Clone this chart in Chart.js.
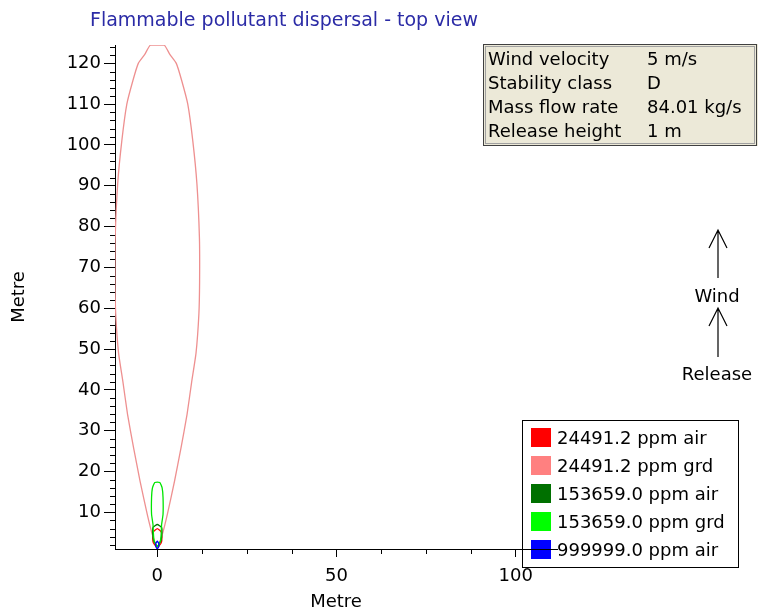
<!DOCTYPE html>
<html lang="en">
<head>
<meta charset="UTF-8">
<title>Flammable pollutant dispersal - top view</title>
<script src="https://cdn.jsdelivr.net/npm/chart.js"></script>
<style>
  body { margin: 0; background: #ffffff; }
  #wrap { width: 758px; height: 613px; }
</style>
</head>
<body>
<div id="wrap"><canvas id="myChart" width="758" height="613"></canvas></div>
<script>
// contours: distance downwind (m) and half width across wind (m)
var redAirY = [1.2, 2.5, 4, 5.2, 6];
var redAirHalf = [0, 1.1, 1.3, 1.1, 0];

var pinkGrdY = [1, 4.6, 9.5, 17.6, 25.7, 34, 42, 49, 58.6, 66.7, 77.3, 90.5, 101, 110, 115.8, 120, 122.2, 124.5];
var pinkGrdHalf = [0, 1.4, 2.8, 4.8, 6.6, 8.3, 9.6, 10.8, 11.6, 11.8, 11.75, 11.05, 9.9, 8.5, 6.8, 5.3, 3.5, 1.9];

var darkGreenAirY = [1.5, 3, 5, 6.3, 7];
var darkGreenAirHalf = [0, 1.0, 1.3, 1.2, 0];

var greenGrdY = [1.5, 3, 5, 7, 9.5, 13.6, 16, 17.3];
var greenGrdHalf = [0, 0.9, 1.1, 1.2, 1.6, 1.6, 1.35, 0.7];

var blueAirY = [1, 1.6, 2.4, 2.9];
var blueAirHalf = [0, 0.4, 0.4, 0];

var seriesLabels = ['24491.2 ppm air', '24491.2 ppm grd', '153659.0 ppm air', '153659.0 ppm grd', '999999.0 ppm air'];
var seriesColors = ['#ff0000', '#ee9090', '#007800', '#00e600', '#0000ff'];
var legendColors = ['#ff0000', '#ff8080', '#007000', '#00ff00', '#0000ff'];

var xTickLabels = [0, 50, 100];
var yTickLabels = [10, 20, 30, 40, 50, 60, 70, 80, 90, 100, 110, 120];
var xMinorStep = 12.5;
var yMinorStep = 2;

var infoLabels = ['Wind velocity', 'Stability class', 'Mass flow rate', 'Release height'];
var infoValues = ['5 m/s', 'D', '84.01 kg/s', '1 m'];

// right side going up, then left side coming down, closed
function contour(ys, halves) {
    var pts = [];
    for (var i = 0; i < ys.length; i++) {
        pts.push({ x: halves[i], y: ys[i] });
    }
    for (var j = ys.length - 1; j >= 0; j--) {
        if (halves[j] === 0) continue;
        pts.push({ x: -halves[j], y: ys[j] });
    }
    pts.push({ x: pts[0].x, y: pts[0].y });
    return pts;
}

var contours = [
    contour(redAirY, redAirHalf),
    contour(pinkGrdY, pinkGrdHalf),
    contour(darkGreenAirY, darkGreenAirHalf),
    contour(greenGrdY, greenGrdHalf),
    contour(blueAirY, blueAirHalf)
];

var datasets = [];
for (var k = 0; k < contours.length; k++) {
    datasets.push({
        label: seriesLabels[k],
        data: contours[k],
        showLine: true,
        borderColor: seriesColors[k],
        backgroundColor: seriesColors[k],
        borderWidth: 1.3,
        pointRadius: 0,
        tension: 0.15,
        fill: false,
        order: 5 - k
    });
}

function drawLegend(ctx) {
    ctx.save();
    ctx.fillStyle = '#ffffff';
    ctx.fillRect(522, 420, 216, 147);
    ctx.strokeStyle = '#000000';
    ctx.lineWidth = 1;
    ctx.strokeRect(522.5, 420.5, 216, 147);
    ctx.font = "18px 'DejaVu Sans'";
    ctx.textBaseline = 'middle';
    ctx.textAlign = 'left';
    for (var i = 0; i < seriesLabels.length; i++) {
        var cy = 438 + i * 28;
        ctx.fillStyle = legendColors[i];
        ctx.fillRect(531, cy - 10, 20, 19);
        ctx.fillStyle = '#000000';
        ctx.fillText(seriesLabels[i], 557, cy + 1);
    }
    ctx.restore();
}

function arrow(ctx, x, tipY, tailY) {
    ctx.beginPath();
    ctx.moveTo(x, tailY);
    ctx.lineTo(x, tipY);
    ctx.moveTo(x - 9, tipY + 18);
    ctx.lineTo(x, tipY);
    ctx.lineTo(x + 9, tipY + 18);
    ctx.stroke();
}

var decor = {
    id: 'decor',
    afterDatasetsDraw: function (chart) {
        drawLegend(chart.ctx);
    },
    afterDraw: function (chart) {
        var ctx = chart.ctx;
        var xs = chart.scales.x;
        var ys = chart.scales.y;
        var area = chart.chartArea;
        ctx.save();

        // minor ticks
        ctx.strokeStyle = '#000000';
        ctx.lineWidth = 1;
        ctx.beginPath();
        for (var v = Math.ceil(ys.min / yMinorStep) * yMinorStep; v <= ys.max; v += yMinorStep) {
            if (yTickLabels.indexOf(v) >= 0) continue;
            var py = Math.round(ys.getPixelForValue(v)) + 0.5;
            ctx.moveTo(area.left - 5, py);
            ctx.lineTo(area.left, py);
        }
        for (var u = Math.ceil(xs.min / xMinorStep) * xMinorStep; u <= xs.max; u += xMinorStep) {
            if (xTickLabels.indexOf(u) >= 0) continue;
            var px = Math.round(xs.getPixelForValue(u)) + 0.5;
            ctx.moveTo(px, area.bottom);
            ctx.lineTo(px, area.bottom + 5);
        }
        ctx.stroke();

        // title
        ctx.fillStyle = '#2b2ba6';
        ctx.font = "19px 'DejaVu Sans'";
        ctx.textAlign = 'left';
        ctx.textBaseline = 'alphabetic';
        ctx.fillText('Flammable pollutant dispersal - top view', 90, 26);

        // info box
        ctx.fillStyle = '#ece9d8';
        ctx.fillRect(483, 44, 275, 102);
        ctx.strokeStyle = '#404040';
        ctx.strokeRect(483.5, 44.5, 273, 101);
        ctx.strokeStyle = '#a0a0a0';
        ctx.strokeRect(485.5, 46.5, 269, 97);
        ctx.fillStyle = '#000000';
        ctx.font = "18px 'DejaVu Sans'";
        for (var i = 0; i < infoLabels.length; i++) {
            var by = 65 + i * 24;
            ctx.fillText(infoLabels[i], 488, by);
            ctx.fillText(infoValues[i], 647, by);
        }

        // wind / release arrows
        ctx.strokeStyle = '#000000';
        ctx.lineWidth = 1.2;
        arrow(ctx, 718, 230, 278);
        arrow(ctx, 718, 308, 357);
        ctx.textAlign = 'center';
        ctx.textBaseline = 'middle';
        ctx.fillText('Wind', 717, 297);
        ctx.fillText('Release', 717, 375);
        ctx.restore();
    }
};

Chart.defaults.font.family = "'DejaVu Sans', sans-serif";
Chart.defaults.font.size = 18;
Chart.defaults.color = '#000000';

var config = {
    type: 'scatter',
    data: { datasets: datasets },
    options: {
        responsive: false,
        animation: false,
        layout: { padding: { top: 45, right: 201, bottom: 0, left: 9 } },
        plugins: {
            legend: { display: false },
            tooltip: { enabled: false }
        },
        scales: {
            x: {
                type: 'linear',
                min: -11.8,
                max: 111.5,
                afterBuildTicks: function (s) {
                    s.ticks = xTickLabels.map(function (v) { return { value: v }; });
                },
                afterFit: function (s) { s.height = 64; },
                grid: { drawOnChartArea: false, tickLength: 8, tickColor: '#000000', z: 1 },
                border: { color: '#000000', width: 1, z: 1 },
                ticks: { padding: 9, color: '#000000', maxRotation: 0 },
                title: { display: true, text: 'Metre', padding: 0, color: '#000000' }
            },
            y: {
                type: 'linear',
                min: 1,
                max: 124.5,
                afterBuildTicks: function (s) {
                    s.ticks = yTickLabels.map(function (v) { return { value: v }; });
                },
                afterFit: function (s) { s.width = 106; },
                grid: { drawOnChartArea: false, tickLength: 11, tickColor: '#000000' },
                border: { color: '#000000', width: 1 },
                ticks: { padding: 3, color: '#000000' },
                title: { display: true, text: 'Metre', padding: 0, color: '#000000' }
            }
        }
    },
    plugins: [decor]
};

var myChart = new Chart(document.getElementById('myChart'), config);
</script>
</body>
</html>
